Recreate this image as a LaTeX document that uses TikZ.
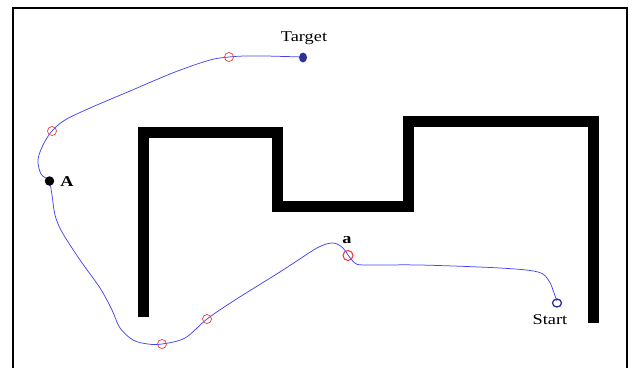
\documentclass[tikz,border=0pt]{standalone}
\usepackage{fontspec}
\usetikzlibrary{shapes.geometric}
\setmainfont{Liberation Serif}
\definecolor{pathblue}{RGB}{70,70,240}
\definecolor{navy}{RGB}{45,50,150}
\definecolor{wpred}{RGB}{240,60,60}
\newcommand\widetext[1]{\scalebox{1.22}[1]{#1}}
\tikzset{
  wall/.style={line width=11pt, line join=miter, line cap=butt, draw=black},
  frameline/.style={line width=1.4pt, draw=black},
  waypoint/.style={circle, draw=wpred, line width=0.7pt, minimum size=9pt, inner sep=0pt},
  lbl/.style={font=\fontsize{15}{17}\selectfont, inner sep=0pt},
  traj/.style={draw=pathblue, line width=0.75pt}
}
\begin{document}
\begin{tikzpicture}[x=1pt,y=-1pt]
\useasboundingbox (0,0) rectangle (634,368);
% frame
\draw[frameline] (13,368) -- (13,8) -- (627,8) -- (627,368);
% walls
\draw[wall] (143.5,317) -- (143.5,132.5) -- (277.5,132.5) -- (277.5,206) -- (408,206) -- (408,121) -- (593.5,121) -- (593.5,323);
% trajectory
\draw[traj] plot[smooth, tension=0.55] coordinates {
 (303,57) (285,56.5) (265,56) (245,56) (229,57) (210,60) (175,72) (130,91) (90,108) (65,120) (52,131) (43,145) (38,160) (41,174) (49,181)
 (52,195) (55,215) (62,232) (80,260) (100,288) (112,310) (120,328) (133,340) (148,344) (162,344) (185,338) (207,319)
 (235,300) (283,270) (317,248) (333,243) (343,248) (348,255) (355,263) (365,265) (420,265) (500,268) (538,272) (549,281) (554,293) (557,301)};
% waypoints
\node[waypoint] (w1) at (229,57) {};
\node[waypoint] (w2) at (52,131) {};
\node[waypoint] (w3) at (162,344) {};
\node[waypoint] (w4) at (207,319) {};
\node[waypoint, line width=1.1pt, minimum size=10pt] (wa) at (348,255.5) {};
% target, A, start
\node[ellipse, fill=navy, minimum width=8pt, minimum height=10pt, inner sep=0pt] (target) at (303,57.5) {};
\node[circle, fill=black, minimum size=9.5pt, inner sep=0pt] (A) at (49.5,181) {};
\node[ellipse, draw=navy, line width=1.3pt, minimum width=9pt, minimum height=8pt, inner sep=0pt] (start) at (557,303) {};
% labels
\node[lbl] (tlab) at (304,38) {\widetext{Target}};
\node[lbl] (slab) at (550,320) {\widetext{Start}};
\node[lbl] (alab) at (67,182) {\widetext{\textbf{A}}};
\node[lbl] (albl) at (347,240) {\widetext{\textbf{a}}};
\end{tikzpicture}
\end{document}
